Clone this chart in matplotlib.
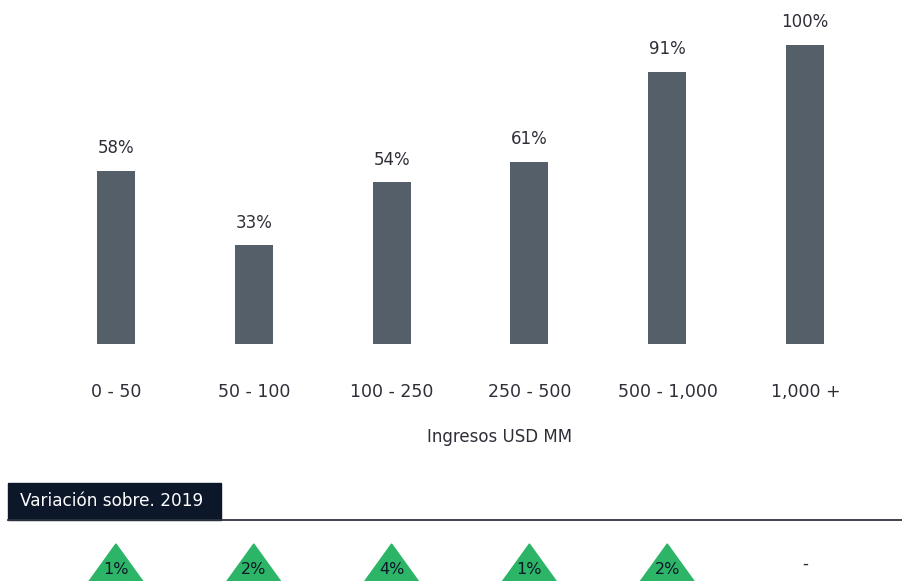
import matplotlib.pyplot as plt
from matplotlib.patches import Rectangle, Polygon
from matplotlib.lines import Line2D

# Datos
rangos = ['0 - 50', '50 - 100', '100 - 250', '250 - 500', '500 - 1,000', '1,000 +']
porcentajes = [58, 33, 54, 61, 91, 100]
variacion = [1, 2, 4, 1, 2, None]

color_barra = '#545f6a'
color_texto = '#2e2e38'
color_verde = '#2db567'
color_navy = '#0c1729'

W, H = 903, 581
fig = plt.figure(figsize=(W / 100, H / 100), dpi=100)
plt.rcParams['font.family'] = 'DejaVu Sans'

# Gráfico de barras
ax = fig.add_axes([47 / W, 1 - 344 / H, (874 - 47) / W, 344 / H])
x = range(len(rangos))
ax.bar(x, porcentajes, width=0.275, color=color_barra)
for i, v in enumerate(porcentajes):
    ax.text(i, v + 4.5, f'{v}%', ha='center', va='bottom', fontsize=12, color=color_texto)
ax.set_xlim(-0.5, 5.5)
ax.set_ylim(0, 115)
ax.axis('off')

for i, r in enumerate(rangos):
    fig.text((47 + 138 * (i + 0.5)) / W, 1 - 392 / H, r, ha='center', va='center',
             fontsize=12.5, color=color_texto)
fig.text(500 / W, 1 - 437 / H, 'Ingresos USD MM', ha='center', va='center',
         fontsize=12, color=color_texto)

# Encabezado de la variación
fig.patches.append(Rectangle((8 / W, 1 - 520 / H), (221 - 8) / W, 37 / H,
                             transform=fig.transFigure, color=color_navy))
fig.text(20 / W, 1 - 501 / H, 'Variación sobre. 2019', ha='left', va='center',
         fontsize=12.2, color='white')
fig.lines.append(Line2D([8 / W, 1], [1 - 520 / H, 1 - 520 / H],
                        transform=fig.transFigure, color='#2e3440', lw=1.3))

# Triángulos de variación
ax2 = fig.add_axes([47 / W, 0, (874 - 47) / W, 60 / H])
ax2.set_xlim(-0.5, 5.5)
ax2.set_ylim(0, 60)
ax2.axis('off')
hw = 29.6 / 138
for i, v in enumerate(variacion):
    if v is None:
        ax2.text(i, 17, '-', ha='center', va='center', fontsize=12, color=color_texto)
        continue
    ax2.add_patch(Polygon([(i - hw, -4), (i + hw, -4), (i, 37)], closed=True,
                          color=color_verde, clip_on=False))
    ax2.text(i, 11, f'{v}%', ha='center', va='center', fontsize=11.5, color=color_navy)

fig.savefig('out.png', dpi=100)
